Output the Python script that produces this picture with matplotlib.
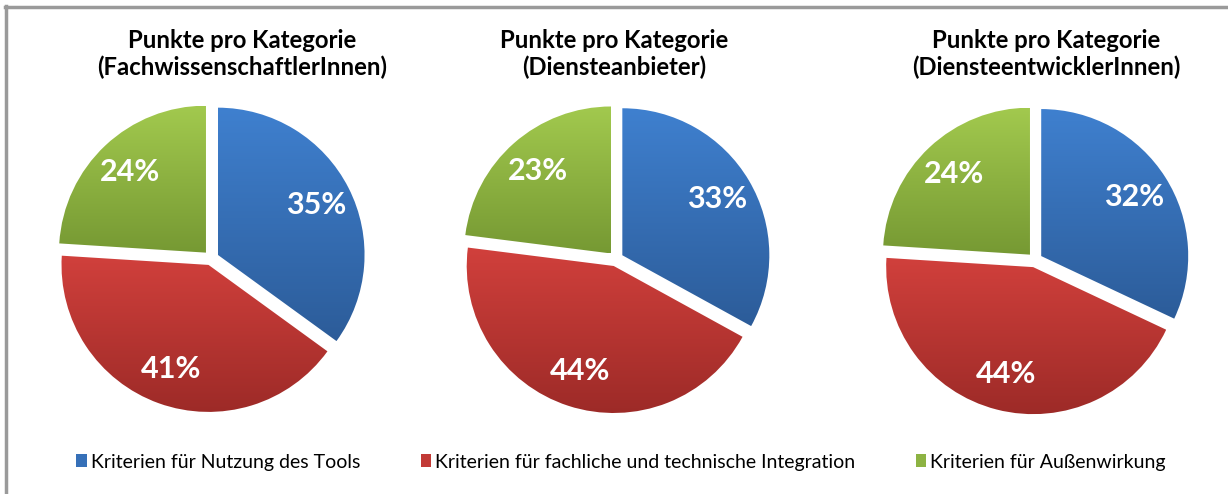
import numpy as np
import matplotlib.pyplot as plt
from matplotlib.colors import to_rgb
from matplotlib.patches import Patch
from matplotlib.lines import Line2D

plt.rcParams['font.family'] = ['Lato', 'DejaVu Sans']

# data
groups = ['FachwissenschaftlerInnen', 'Diensteanbieter', 'DiensteentwicklerInnen']
categories = ['Kriterien für Nutzung des Tools',
              'Kriterien für fachliche und technische Integration',
              'Kriterien für Außenwirkung']
shares = [[35, 41, 24],
          [33, 44, 23],
          [32, 44, 24]]

# top / bottom gradient colours per category (blue, red, green)
grad_top = ['#3f80cf', '#d1403c', '#a2c94e']
grad_bot = ['#2c5c99', '#9c2a27', '#769933']
legend_cols = ['#3670b8', '#c23a36', '#8db343']

W, H = 1228, 494
fig = plt.figure(figsize=(W / 100, H / 100), dpi=100)

# pie centres in pixels (from top-left) and title centres
centers = [(211, 258), (616, 259), (1035, 260)]
title_x = [242, 614, 1046]
r_px = 147
lim = 1.2
side = 2 * lim * r_px


def grad_img(top, bot, n=200):
    a = np.array(to_rgb(top))
    b = np.array(to_rgb(bot))
    t = np.linspace(0, 1, n)[:, None]
    return (a * (1 - t) + b * t)[:, None, :]


for i, (vals, (cx, cy)) in enumerate(zip(shares, centers)):
    ax = fig.add_axes([(cx - side / 2) / W, 1 - (cy + side / 2) / H, side / W, side / H])
    wedges, texts, autotexts = ax.pie(vals, startangle=90, counterclock=False,
                                      explode=[0.05] * 3, radius=1,
                                      autopct=lambda p: f'{p:.0f}%', pctdistance=0.75,
                                      textprops=dict(color='white', fontsize=22, fontweight='bold'))
    for k, w in enumerate(wedges):
        v = w.get_path().vertices
        w.set_facecolor('none')
        w.set_edgecolor('none')
        im = ax.imshow(grad_img(grad_top[k], grad_bot[k]), aspect='auto',
                       extent=(v[:, 0].min(), v[:, 0].max(), v[:, 1].min(), v[:, 1].max()),
                       zorder=1, interpolation='bilinear')
        im.set_clip_path(w)
    for t in autotexts:
        t.set_zorder(5)
    ax.set_xlim(-lim, lim)
    ax.set_ylim(-lim, lim)
    ax.set_aspect('equal')
    ax.axis('off')

    fig.text(title_x[i] / W, 1 - 54 / H, 'Punkte pro Kategorie\n(' + groups[i] + ')',
             ha='center', va='center', fontsize=17.2, fontweight='bold',
             color='black', linespacing=1.15)

handles = [Patch(facecolor=c, edgecolor='none') for c in legend_cols]
fig.legend(handles, categories, loc='center', bbox_to_anchor=(621 / W, 1 - 462 / H),
           ncol=3, frameon=False, fontsize=14, handlelength=0.55, handleheight=0.6,
           handletextpad=0.2, columnspacing=3.1)

# grey frame (top and left edge)
fig.add_artist(Line2D([5 / W, 1], [1 - 7 / H] * 2, transform=fig.transFigure,
                      color='#9a9a9a', lw=2.5))
fig.add_artist(Line2D([6 / W] * 2, [0, 1 - 6 / H], transform=fig.transFigure,
                      color='#9a9a9a', lw=2.5))

fig.savefig('out.png', dpi=100)
